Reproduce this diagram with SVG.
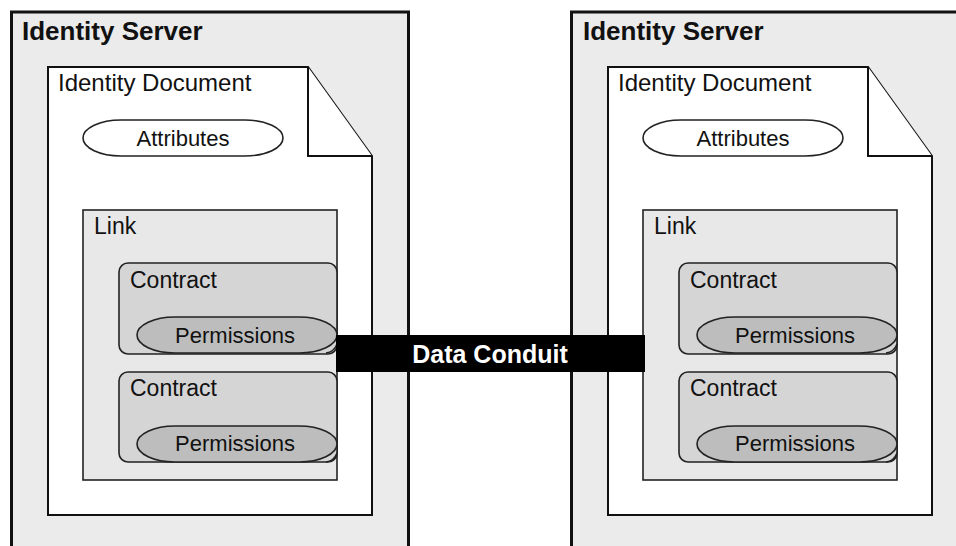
<svg xmlns="http://www.w3.org/2000/svg" width="956" height="546" viewBox="0 0 956 546">
<style>
text{font-family:"Liberation Sans",Arial,sans-serif;fill:#111}
.srv{fill:#ebebeb;stroke:#111;stroke-width:3}
.doc{fill:#fff;stroke:#111;stroke-width:2;stroke-linejoin:miter}
.link{fill:#e8e8e8;stroke:#222;stroke-width:1.6}
.ctr{fill:#d5d5d5;stroke:#222;stroke-width:1.6}
.perm{fill:#bdbdbd;stroke:#222;stroke-width:1.6}
.attr{fill:#fff;stroke:#222;stroke-width:1.6}
.corner{fill:none;stroke:#222;stroke-width:1.4}
.t23{font-size:23px}
.t22{font-size:22px}
.b{font-weight:bold;font-size:26px}
</style>
<rect width="956" height="546" fill="#fff"/>
<g id="server-left">
<rect class="srv" x="11.5" y="12" width="397" height="560"/>
<text class="b" x="22" y="40">Identity Server</text>
</g>
<g id="doc-left">
<path class="doc" d="M48,67 H308 L372,156 V515 H48 Z"/>
<path class="doc" d="M308,67 V156 H372" fill="none"/>
<text class="t23" x="58" y="91" style="font-size:24px">Identity Document</text>
</g>
<g id="attr-left">
<rect class="attr" x="83" y="120" width="200" height="36" rx="38" ry="18"/>
<text class="t22" x="183" y="146" text-anchor="middle">Attributes</text>
</g>
<g id="link-left">
<rect class="link" x="83" y="210" width="254" height="270"/>
<text class="t23" x="94" y="234">Link</text>
</g>
<g id="contract-left-1">
<rect class="ctr" x="119" y="263" width="218" height="91" rx="9"/>
<text class="t23" x="130" y="288">Contract</text>
</g>
<g id="perm-left-1">
<rect class="perm" x="137" y="317" width="200" height="36" rx="38" ry="18"/>
<path class="corner" d="M326,353 Q334,352 337,344"/>
<text class="t22" x="235" y="343" text-anchor="middle">Permissions</text>
</g>
<g id="contract-left-2">
<rect class="ctr" x="119" y="372" width="218" height="90" rx="9"/>
<text class="t23" x="130" y="396">Contract</text>
</g>
<g id="perm-left-2">
<rect class="perm" x="137" y="426" width="200" height="36" rx="38" ry="18"/>
<path class="corner" d="M326,462 Q334,461 337,453"/>
<text class="t22" x="235" y="451" text-anchor="middle">Permissions</text>
</g>
<g id="server-right">
<rect class="srv" x="571.5" y="12" width="400" height="560"/>
<text class="b" x="583" y="40">Identity Server</text>
</g>
<g id="doc-right">
<path class="doc" d="M608,67 H868 L932,156 V515 H608 Z"/>
<path class="doc" d="M868,67 V156 H932" fill="none"/>
<text class="t23" x="618" y="91" style="font-size:24px">Identity Document</text>
</g>
<g id="attr-right">
<rect class="attr" x="643" y="120" width="200" height="36" rx="38" ry="18"/>
<text class="t22" x="743" y="146" text-anchor="middle">Attributes</text>
</g>
<g id="link-right">
<rect class="link" x="643" y="210" width="254" height="270"/>
<text class="t23" x="654" y="234">Link</text>
</g>
<g id="contract-right-1">
<rect class="ctr" x="679" y="263" width="218" height="91" rx="9"/>
<text class="t23" x="690" y="288">Contract</text>
</g>
<g id="perm-right-1">
<rect class="perm" x="697" y="317" width="200" height="36" rx="38" ry="18"/>
<path class="corner" d="M886,353 Q894,352 897,344"/>
<text class="t22" x="795" y="343" text-anchor="middle">Permissions</text>
</g>
<g id="contract-right-2">
<rect class="ctr" x="679" y="372" width="218" height="90" rx="9"/>
<text class="t23" x="690" y="396">Contract</text>
</g>
<g id="perm-right-2">
<rect class="perm" x="697" y="426" width="200" height="36" rx="38" ry="18"/>
<path class="corner" d="M886,462 Q894,461 897,453"/>
<text class="t22" x="795" y="451" text-anchor="middle">Permissions</text>
</g>
<g id="connectors">
<rect x="336" y="335" width="309" height="37" fill="#000"/>
<text x="490" y="363" text-anchor="middle" style="font-weight:bold;font-size:25px;fill:#fff">Data Conduit</text>
</g>
</svg>
